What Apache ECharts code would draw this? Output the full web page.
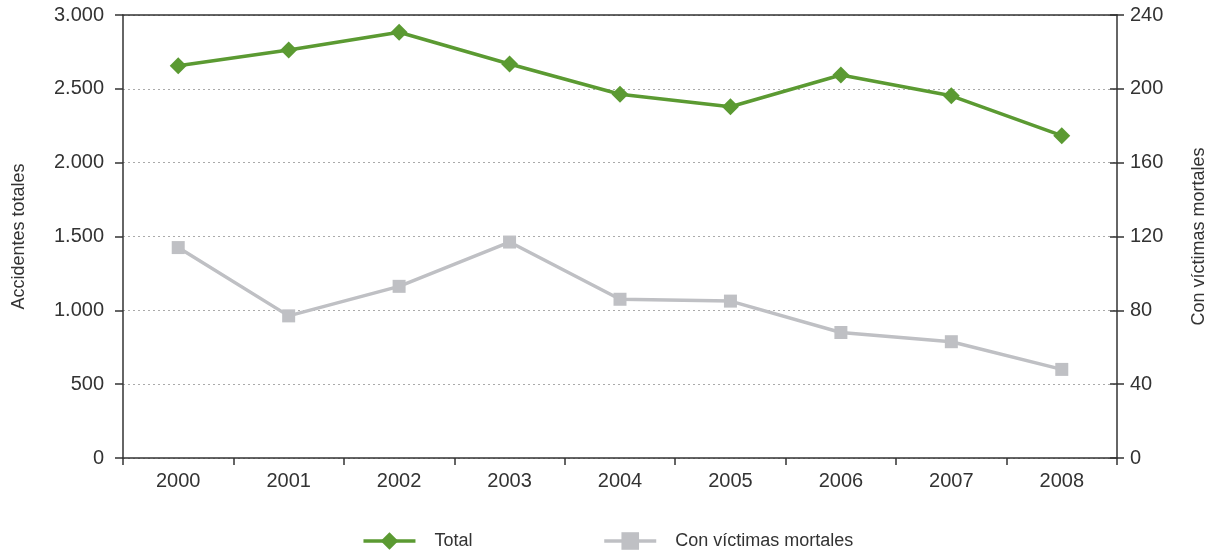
<!DOCTYPE html>
<html>
<head>
<meta charset="utf-8">
<script src="https://cdn.jsdelivr.net/npm/echarts@6/dist/echarts.min.js"></script>
<style>
html,body{margin:0;padding:0;background:#fff;}
#chart{width:1215px;height:555px;}
</style>
</head>
<body>
<div id="chart"></div>
<script>
const years = ['2000','2001','2002','2003','2004','2005','2006','2007','2008'];
const totalValues = [2657, 2763, 2883, 2668, 2463, 2379, 2594, 2453, 2183];
const mortalValues = [114, 77, 93, 117, 86, 85, 68, 63, 48];
const leftTicks = {min: 0, max: 3000, interval: 500};
const rightTicks = {min: 0, max: 240, interval: 40};
const seriesNames = ['Total', 'Con víctimas mortales'];
const axisNames = ['Accidentes totales', 'Con víctimas mortales'];

const FONT = '"Liberation Sans", Arial, sans-serif';
const TXT = '#333333';
const AX = '#333333';
const GREEN = '#5b9a32';
const GREY = '#bfc0c4';

const chart = echarts.init(document.getElementById('chart'));
chart.setOption({
  animation: false,
  backgroundColor: '#fff',
  grid: {left: 123, right: 98, top: 15, bottom: 97, containLabel: false, outerBoundsMode: 'none'},
  legend: {
    data: seriesNames,
    bottom: 0,
    left: 'center',
    itemWidth: 52,
    itemHeight: 22,
    itemGap: 130,
    lineStyle: {width: 3.5},
    textStyle: {fontFamily: FONT, fontSize: 18, color: TXT, padding: [0, 0, 0, 14]}
  },
  xAxis: [
    {
      type: 'category',
      data: years,
      boundaryGap: true,
      axisLine: {lineStyle: {color: AX, width: 1.5}},
      axisTick: {show: true, length: 7, lineStyle: {color: AX, width: 1.5}},
      axisLabel: {fontFamily: FONT, fontSize: 20, color: TXT, margin: 13},
      splitLine: {show: false}
    },
    {
      type: 'category',
      data: years,
      position: 'top',
      boundaryGap: true,
      axisLine: {show: true, onZero: false, lineStyle: {color: AX, width: 1.5}},
      axisTick: {show: false},
      axisLabel: {show: false},
      splitLine: {show: false}
    }
  ],
  yAxis: [
    {
      type: 'value', position: 'left',
      min: leftTicks.min, max: leftTicks.max, interval: leftTicks.interval,
      name: axisNames[0], nameLocation: 'middle', nameRotate: 90, nameGap: 95,
      nameTextStyle: {fontFamily: FONT, fontSize: 18, color: TXT},
      axisLine: {show: true, lineStyle: {color: AX, width: 1.5}},
      axisTick: {show: true, length: 8, lineStyle: {color: AX, width: 1.5}},
      axisLabel: {fontFamily: FONT, fontSize: 20, color: TXT, margin: 19,
        formatter: v => v === 0 ? '0' : v.toLocaleString('de-DE')},
      splitLine: {show: true, lineStyle: {color: '#aaaaaa', width: 1, type: [2, 3]}}
    },
    {
      type: 'value', position: 'right',
      min: rightTicks.min, max: rightTicks.max, interval: rightTicks.interval,
      name: axisNames[1], nameLocation: 'middle', nameRotate: 90, nameGap: 73,
      nameTextStyle: {fontFamily: FONT, fontSize: 18, color: TXT},
      axisLine: {show: true, lineStyle: {color: AX, width: 1.5}},
      axisTick: {show: true, length: 7, lineStyle: {color: AX, width: 1.5}},
      axisLabel: {fontFamily: FONT, fontSize: 20, color: TXT, margin: 13},
      splitLine: {show: false}
    },
    {
      type: 'value', position: 'right',
      min: rightTicks.min, max: rightTicks.max, interval: rightTicks.interval,
      axisLine: {show: false},
      axisTick: {show: true, inside: true, length: 7, lineStyle: {color: AX, width: 1.5}},
      axisLabel: {show: false},
      splitLine: {show: false}
    }
  ],
  series: [
    {
      name: seriesNames[0], type: 'line', yAxisIndex: 0, data: totalValues,
      symbol: 'diamond', symbolSize: 17,
      lineStyle: {color: GREEN, width: 3.5},
      itemStyle: {color: GREEN},
      z: 3
    },
    {
      name: seriesNames[1], type: 'line', yAxisIndex: 1, data: mortalValues,
      symbol: 'rect', symbolSize: 13,
      lineStyle: {color: GREY, width: 3.5},
      itemStyle: {color: GREY},
      z: 2
    }
  ]
});
</script>
</body>
</html>
